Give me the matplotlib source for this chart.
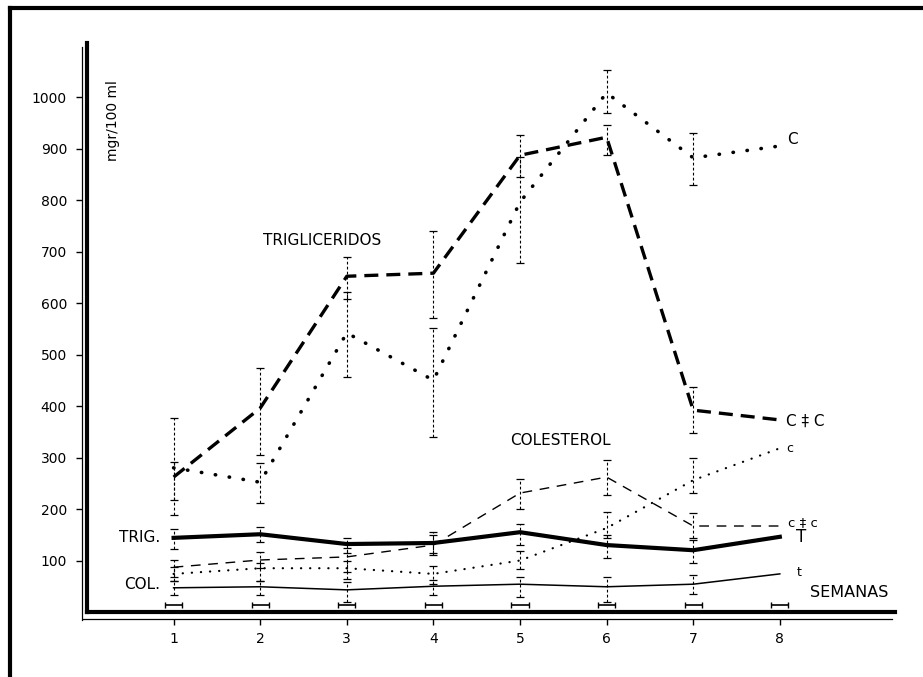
import numpy as np
import matplotlib
matplotlib.use("Agg")
import matplotlib.pyplot as plt
from matplotlib.lines import Line2D

plt.rcParams['font.family'] = ['DejaVu Sans']

semanas = [1, 2, 3, 4, 5, 6, 7, 8]

# trigliceridos, grupo C+C (trazo grueso discontinuo)
trig_cc = [262, 396, 652, 658, 887, 922, 392, 373]
trig_cc_lo = [188, 305, 608, 571, 845, 887, 348, np.nan]
trig_cc_hi = [377, 474, 689, 740, 926, 946, 437, np.nan]

# trigliceridos, grupo C (puntos gruesos)
trig_c = [280, 252, 542, 450, 796, 1008, 882, 905]
trig_c_lo = [217, 212, 456, 340, 677, 969, 829, np.nan]
trig_c_hi = [291, 289, 621, 551, 883, 1052, 930, np.nan]

# colesterol c+c (discontinuo fino)
col_cc = [87, 101, 107, 130, 231, 262, 167, 167]
col_cc_lo = [68, 85, 78, 110, 200, 227, 144, np.nan]
col_cc_hi = [101, 116, 124, 150, 258, 295, 192, np.nan]

# colesterol c (puntos finos)
col_c = [74, 85, 85, 74, 100, 163, 256, 318]
col_c_lo = [60, 60, 65, 55, 83, 144, 231, np.nan]
col_c_hi = [88, 95, 100, 90, 118, 194, 299, np.nan]

# testigos: TRIG. (grueso) y COL. (fino)
trig_t = [144, 151, 132, 134, 155, 130, 120, 146]
trig_t_lo = [122, 136, 115, 115, 130, 105, 95, np.nan]
trig_t_hi = [161, 165, 144, 155, 171, 150, 140, np.nan]

col_t = [47, 49, 43, 50, 54, 49, 54, 74]
col_t_lo = [33, 33, 19, 33, 29, 19, 35, np.nan]
col_t_hi = [60, 60, 58, 62, 68, 68, 72, np.nan]

# barras horizontales junto al eje
barra_nivel = [14, 14, 14, 14, 14, 14, 14, 14]
barra_ancho = 0.1

fig = plt.figure(figsize=(9.23, 6.77), dpi=100)
ax = fig.add_axes([87 / 923, 1 - 612 / 677, (895 - 87) / 923, (612 - 43) / 677])
ax.set_xlim(0, 9.33)
ax.set_ylim(0, 1105)


def barras(vals, lo, hi):
    vals = np.array(vals, float)
    err = [vals - np.array(lo, float), np.array(hi, float) - vals]
    eb = ax.errorbar(semanas, vals, yerr=err, fmt='none', ecolor='black',
                     elinewidth=0.8, capsize=3, capthick=0.9, zorder=2)
    eb.lines[2][0].set_linestyle((0, (2.5, 2)))


barras(trig_cc, trig_cc_lo, trig_cc_hi)
barras(trig_c, trig_c_lo, trig_c_hi)
barras(col_cc, col_cc_lo, col_cc_hi)
barras(col_c, col_c_lo, col_c_hi)
barras(trig_t, trig_t_lo, trig_t_hi)
barras(col_t, col_t_lo, col_t_hi)

ax.errorbar(semanas, barra_nivel, xerr=barra_ancho, fmt='none', ecolor='black',
            elinewidth=1.2, capsize=2.5, capthick=1.0)

ax.plot(semanas, trig_cc, color='black', lw=2.4, linestyle=(0, (4.2, 2.4)), zorder=3)
ax.plot(semanas, trig_c, color='black', lw=2.6, linestyle=(0, (0.1, 3.8)),
        dash_capstyle='round', zorder=3)
ax.plot(semanas, col_cc, color='black', lw=1.0, linestyle=(0, (7, 5.5)), zorder=3)
ax.plot(semanas, col_c, color='black', lw=1.6, linestyle=(0, (0.1, 4)),
        dash_capstyle='round', zorder=3)
ax.plot(semanas, trig_t, color='black', lw=3.0, zorder=3)
ax.plot(semanas, col_t, color='black', lw=1.1, zorder=3)

# ejes dobles (grueso + fino)
for s in ['top', 'right']:
    ax.spines[s].set_visible(False)
ax.spines['left'].set_position(('outward', 3.6))
ax.spines['bottom'].set_position(('outward', 5))
ax.spines['left'].set_linewidth(0.9)
ax.spines['bottom'].set_linewidth(0.9)
ax.spines['left'].set_bounds(-15, 1097)
ax.spines['bottom'].set_bounds(-0.05, 9.3)
ax.axvline(0, color='black', lw=3, clip_on=False)
ax.axhline(0, color='black', lw=3, clip_on=False)

ax.set_yticks([100, 200, 300, 400, 500, 600, 700, 800, 900, 1000])
ax.set_xticks(semanas)
ax.tick_params(axis='y', direction='out', length=4.3, width=1, pad=6.5, labelsize=10)
ax.tick_params(axis='x', direction='out', length=4.3, width=1, pad=5, labelsize=10)

ax.text(0.30, 955, 'mgr/100 ml', rotation=90, ha='center', va='center', fontsize=10)
ax.text(2.72, 722, 'TRIGLICERIDOS', ha='center', va='center', fontsize=11)
ax.text(5.47, 334, 'COLESTEROL', ha='center', va='center', fontsize=11)
ax.text(0.85, 144, 'TRIG.', ha='right', va='center', fontsize=11)
ax.text(0.85, 54, 'COL.', ha='right', va='center', fontsize=11)
ax.text(8.09, 917, 'C', ha='left', va='center', fontsize=11)
ax.text(8.07, 371, 'C ‡ C', ha='left', va='center', fontsize=11)
ax.text(8.08, 318, 'c', ha='left', va='center', fontsize=9)
ax.text(8.10, 173, 'c ‡ c', ha='left', va='center', fontsize=9.5)
ax.text(8.19, 146, 'T', ha='left', va='center', fontsize=12)
ax.text(8.20, 76, 't', ha='left', va='center', fontsize=9)
ax.text(8.35, 37, 'SEMANAS', ha='left', va='center', fontsize=11.5)

# marco exterior
fig.add_artist(Line2D([10 / 923, 10 / 923], [0, 1 - 8 / 677], transform=fig.transFigure,
                      color='black', lw=3))
fig.add_artist(Line2D([10 / 923, 1], [1 - 8 / 677, 1 - 8 / 677], transform=fig.transFigure,
                      color='black', lw=3))

fig.savefig('out.png', dpi=100)
